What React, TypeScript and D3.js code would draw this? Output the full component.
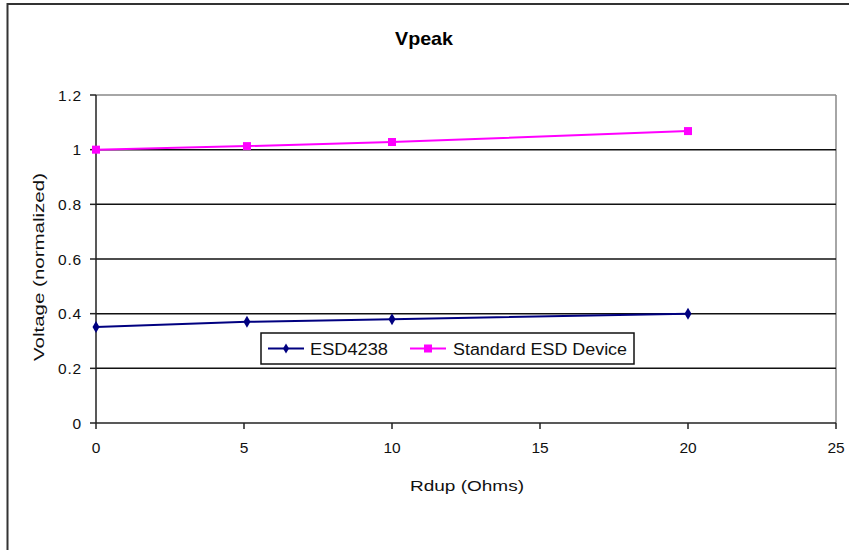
import React from "react";
import * as d3 from "d3";

const rdup = [0, 5.1, 10, 20];
const esd4238 = [0.351, 0.37, 0.38, 0.4];
const standardEsd = [1.0, 1.013, 1.028, 1.068];
const xTicks = [0, 5, 10, 15, 20, 25];
const yTicks = [0, 0.2, 0.4, 0.6, 0.8, 1, 1.2];
const seriesNames = ["ESD4238", "Standard ESD Device"];

const W = 849;
const H = 550;
const font = "'Liberation Sans', Arial, sans-serif";

export default function App() {
  const x = d3.scaleLinear().domain([0, 25]).range([96, 836]);
  const y = d3.scaleLinear().domain([0, 1.2]).range([423, 95]);
  const line = d3
    .line<[number, number]>()
    .x((d) => x(d[0]))
    .y((d) => y(d[1]));
  const blueData: [number, number][] = rdup.map((r, i) => [r, esd4238[i]]);
  const pinkData: [number, number][] = rdup.map((r, i) => [r, standardEsd[i]]);

  return (
    <svg
      width={W}
      height={H}
      style={{ position: "absolute", left: 0, top: 0, background: "#fff" }}
    >
      {/* outer frame */}
      <rect x={7.5} y={4} width={W + 10} height={H + 10} fill="#fff" stroke="#333" strokeWidth={2} />
      {/* title */}
      <text x={424} y={45} textAnchor="middle" fontFamily={font} fontSize={19} fontWeight="bold" fill="#000" textLength={58} lengthAdjust="spacingAndGlyphs">
        Vpeak
      </text>
      {/* plot border top / right */}
      <line x1={x(0)} x2={x(25)} y1={y(1.2)} y2={y(1.2)} stroke="#888" strokeWidth={1.5} />
      <line x1={x(25)} x2={x(25)} y1={y(1.2)} y2={y(0)} stroke="#888" strokeWidth={1.5} />
      {/* gridlines */}
      {yTicks
        .filter((t) => t > 0 && t < 1.2)
        .map((t) => (
          <line key={t} x1={x(0)} x2={x(25)} y1={y(t)} y2={y(t)} stroke="#111" strokeWidth={1.5} />
        ))}
      {/* axes */}
      <line x1={x(0)} x2={x(0)} y1={y(1.2)} y2={y(0)} stroke="#222" strokeWidth={1.5} />
      <line x1={x(0)} x2={x(25)} y1={y(0)} y2={y(0)} stroke="#222" strokeWidth={1.5} />
      {yTicks.map((t) => (
        <g key={"y" + t}>
          <line x1={x(0) - 6} x2={x(0)} y1={y(t)} y2={y(t)} stroke="#222" strokeWidth={1.5} />
          <text x={82} y={y(t) + 5.5} textAnchor="end" fontFamily={font} fontSize={15.5} letterSpacing={0.8} fill="#111">
            {String(t)}
          </text>
        </g>
      ))}
      {xTicks.map((t) => (
        <g key={"x" + t}>
          <line x1={x(t)} x2={x(t)} y1={y(0)} y2={y(0) + 6} stroke="#222" strokeWidth={1.5} />
          <text x={x(t)} y={453} textAnchor="middle" fontFamily={font} fontSize={15.5} fill="#111">
            {String(t)}
          </text>
        </g>
      ))}
      <text x={467} y={491} textAnchor="middle" fontFamily={font} fontSize={15.5} fill="#111" textLength={114} lengthAdjust="spacingAndGlyphs">
        Rdup (Ohms)
      </text>
      <text
        transform={`translate(44,${267}) rotate(-90)`}
        textAnchor="middle"
        fontFamily={font}
        fontSize={15.5}
        fill="#111"
        textLength={188}
        lengthAdjust="spacingAndGlyphs"
      >
        Voltage (normalized)
      </text>
      {/* series */}
      <path d={line(pinkData) || ""} fill="none" stroke="#ff00ff" strokeWidth={2} />
      {pinkData.map((d, i) => (
        <rect key={"p" + i} x={x(d[0]) - 4} y={y(d[1]) - 4} width={8} height={8} fill="#ff00ff" />
      ))}
      <path d={line(blueData) || ""} fill="none" stroke="#000080" strokeWidth={2} />
      {blueData.map((d, i) => (
        <path
          key={"b" + i}
          d={`M${x(d[0])},${y(d[1]) - 6}L${x(d[0]) + 3.5},${y(d[1])}L${x(d[0])},${y(d[1]) + 6}L${x(d[0]) - 3.5},${y(d[1])}Z`}
          fill="#000080"
        />
      ))}
      {/* legend */}
      <rect x={261} y={333} width={373} height={31} fill="#fff" stroke="#111" strokeWidth={1.5} />
      <line x1={268} x2={304} y1={348.5} y2={348.5} stroke="#000080" strokeWidth={2} />
      <path d="M286,343.5L289,348.5L286,353.5L283,348.5Z" fill="#000080" />
      <text x={310} y={355} fontFamily={font} fontSize={16} fill="#111" textLength={78} lengthAdjust="spacingAndGlyphs">
        {seriesNames[0]}
      </text>
      <line x1={410} x2={446} y1={348.5} y2={348.5} stroke="#ff00ff" strokeWidth={2} />
      <rect x={424} y={344.5} width={8} height={8} fill="#ff00ff" />
      <text x={453} y={355} fontFamily={font} fontSize={16} fill="#111" textLength={174} lengthAdjust="spacingAndGlyphs">
        {seriesNames[1]}
      </text>
    </svg>
  );
}
